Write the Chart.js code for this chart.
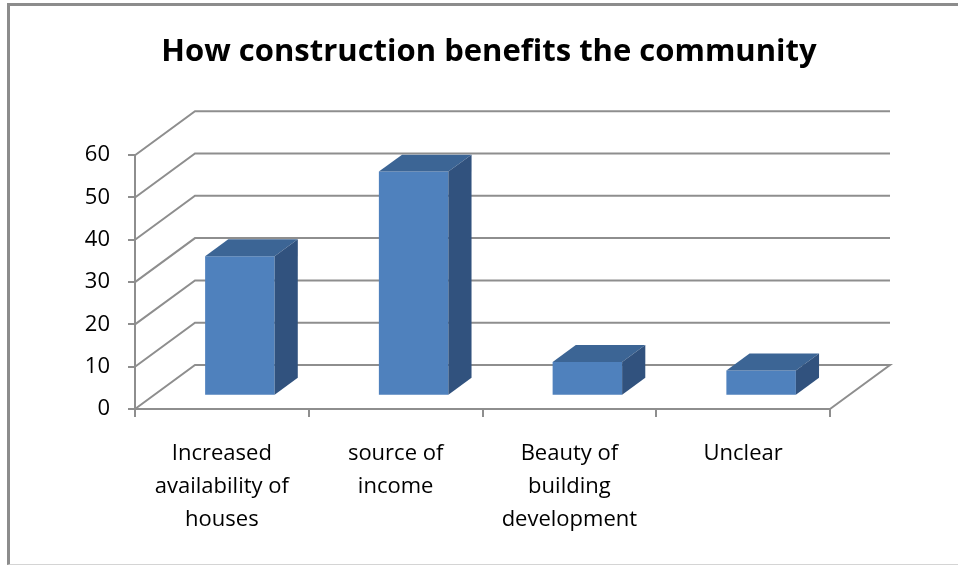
<!DOCTYPE html>
<html>
<head>
<meta charset="utf-8">
<title>How construction benefits the community</title>
<script src="https://cdn.jsdelivr.net/npm/chart.js@4"></script>
<style>
  html, body { margin: 0; padding: 0; background: #fff; overflow: hidden; }
  #frame {
    position: absolute; left: 7px; top: 3px; width: 980px; height: 558px;
    border-left: 3px solid #8c8c8c; border-top: 3px solid #8c8c8c; border-bottom: 1px solid #d4d4d4;
  }
  #wrap { position: absolute; left: 0; top: 0; width: 958px; height: 565px; }
</style>
</head>
<body>
<div id="frame"></div>
<div id="wrap"><canvas id="benefitsChart" width="958" height="565"></canvas></div>
<script>
// Dữ liệu biểu đồ
const categories = [
    ['Increased', 'availability of', 'houses'],
    ['source of', 'income'],
    ['Beauty of', 'building', 'development'],
    ['Unclear']
];
const values = [33, 53, 8, 6];
const yTicks = [0, 10, 20, 30, 40, 50, 60];

// Kiểu vẽ 3D (chiếu xiên)
const WALL_DX = 60, WALL_DY = -44;   // độ sâu toàn bộ sàn / tường
const BAR_FRONT = 0.30;              // vị trí mặt trước cột theo độ sâu
const BAR_DEPTH = 0.386;             // độ dày cột theo độ sâu
const GRID_COLOR = '#8e8e8e';
const FRONT_COLOR = '#4f81bd';
const TOP_COLOR = '#3c6595';
const SIDE_COLOR = '#31527e';

/**
 * Plugin vẽ tường, sàn và mặt trên / mặt bên của cột
 */
const box3d = {
    id: 'box3d',
    beforeDatasetsDraw(chart) {
        const { ctx, chartArea, scales } = chart;
        const y = scales.y;
        ctx.save();
        ctx.strokeStyle = GRID_COLOR;
        ctx.lineWidth = 2;
        yTicks.forEach(v => {
            const py = y.getPixelForValue(v);
            ctx.beginPath();
            ctx.moveTo(chartArea.left, py);
            ctx.lineTo(chartArea.left + WALL_DX, py + WALL_DY);
            ctx.lineTo(chartArea.right + WALL_DX, py + WALL_DY);
            if (v === 0) ctx.lineTo(chartArea.right, py);
            ctx.stroke();
        });
        ctx.restore();

        // dời cột vào giữa sàn
        ctx.save();
        ctx.translate(WALL_DX * BAR_FRONT, WALL_DY * BAR_FRONT);
    },
    afterDatasetsDraw(chart) {
        const { ctx } = chart;
        ctx.restore();

        const ox = WALL_DX * BAR_FRONT, oy = WALL_DY * BAR_FRONT;
        const bx = WALL_DX * BAR_DEPTH, by = WALL_DY * BAR_DEPTH;
        chart.getDatasetMeta(0).data.forEach(bar => {
            const p = bar.getProps(['x', 'y', 'base', 'width'], true);
            const l = p.x - p.width / 2 + ox, r = p.x + p.width / 2 + ox;
            const t = p.y + oy, b = p.base + oy;

            // mặt trên
            ctx.fillStyle = TOP_COLOR;
            ctx.beginPath();
            ctx.moveTo(l, t);
            ctx.lineTo(r, t);
            ctx.lineTo(r + bx, t + by);
            ctx.lineTo(l + bx, t + by);
            ctx.closePath();
            ctx.fill();

            // mặt bên phải
            ctx.fillStyle = SIDE_COLOR;
            ctx.beginPath();
            ctx.moveTo(r, t);
            ctx.lineTo(r + bx, t + by);
            ctx.lineTo(r + bx, b + by);
            ctx.lineTo(r, b);
            ctx.closePath();
            ctx.fill();
        });
    }
};

const ctx = document.getElementById('benefitsChart').getContext('2d');
new Chart(ctx, {
    type: 'bar',
    data: {
        labels: categories,
        datasets: [{
            data: values,
            backgroundColor: FRONT_COLOR,
            borderWidth: 0,
            categoryPercentage: 1,
            barPercentage: 0.4,
            clip: false
        }]
    },
    options: {
        responsive: false,
        animation: false,
        layout: { padding: { left: 20, right: 0, top: 0, bottom: 0 } },
        plugins: {
            legend: { display: false },
            tooltip: { enabled: false },
            title: {
                display: true,
                text: 'How construction benefits the community',
                color: '#000',
                font: { family: 'Open Sans', size: 31, weight: 'bold', lineHeight: 1.2 },
                padding: { top: 34, bottom: 84 }
            }
        },
        scales: {
            x: {
                afterFit(scale) { scale.height = 156; },
                grid: { display: true, drawOnChartArea: false, color: GRID_COLOR, lineWidth: 2, tickLength: 8, offset: true },
                border: { display: true, color: GRID_COLOR, width: 2 },
                ticks: {
                    color: '#000',
                    padding: 20,
                    maxRotation: 0,
                    autoSkip: false,
                    font: { family: 'Open Sans', size: 22, lineHeight: '33px' }
                }
            },
            y: {
                min: 0,
                max: 60,
                afterFit(scale) { scale.width = 115; },
                afterBuildTicks(scale) { scale.ticks = yTicks.map(v => ({ value: v })); },
                grid: { display: true, drawOnChartArea: false, color: GRID_COLOR, lineWidth: 2, tickLength: 7 },
                border: { display: true, color: GRID_COLOR, width: 2 },
                ticks: {
                    color: '#000',
                    padding: 18,
                    font: { family: 'Open Sans', size: 22 }
                }
            },
            // trục phụ bên phải chỉ giữ chỗ cho tường sau
            yRight: {
                position: 'right',
                min: 0,
                max: 60,
                afterFit(scale) { scale.width = 128; },
                grid: { display: false },
                border: { display: false },
                ticks: { display: false }
            }
        }
    },
    plugins: [box3d]
});
</script>
</body>
</html>
